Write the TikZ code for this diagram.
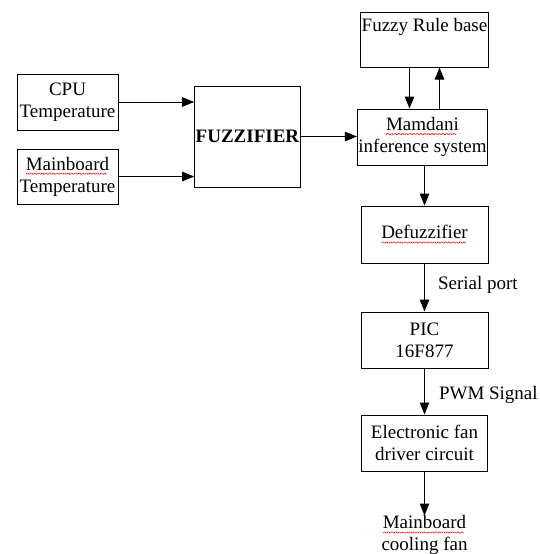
\documentclass[tikz,border=0pt]{standalone}
\usepackage{fontspec}
\setmainfont{Liberation Serif}
\usepackage{graphicx}
\usepackage{tikz}
\usetikzlibrary{arrows.meta,positioning}

% red wavy spell-check underline, built from small rules
\newcommand\wavebit{\rotatebox{45}{\rule{2pt}{0.6pt}}\raisebox{1.4pt}{\rotatebox{-45}{\rule{2pt}{0.6pt}}}}
\newcommand\spellerr[1]{\setbox0\hbox{#1}\rlap{\lower4.5pt\hbox to\wd0{\color{red}\leaders\hbox{\wavebit}\hfill}}#1}

\begin{document}
\begin{tikzpicture}[x=1pt, y=-1pt, node distance=40pt and 60pt,
  box/.style={draw, line width=1pt, align=center, minimum width=127pt, minimum height=56pt, inner sep=1pt, font=\fontsize{19}{22}\selectfont},
  arrow/.style={-{Triangle[length=12pt, width=9.5pt]}, line width=1pt},
  lbl/.style={font=\fontsize{19}{22}\selectfont, inner sep=0pt}]

\useasboundingbox (0,0) rectangle (539,554);

% inputs and fuzzifier
\node[box, minimum width=101pt] (cpu) at (67.5,102) {CPU\\Temperature};
\node[box, minimum width=101pt, minimum height=55pt] (mbtemp) at (67.5,176.5) {\spellerr{Mainboard}\\Temperature};
\node[box, minimum width=101pt, minimum height=101pt] (fuzz) at (247.5,136.5) {\textbf{FUZZIFIER}};

% inference column
\node[box, minimum height=55pt] (rules) at (424.5,39.5) {Fuzzy Rule base\\\strut};
\node[box] (mamdani) at (422.5,137) {\spellerr{Mamdani}\\inference system};
\node[box, below=40pt of mamdani, xshift=2pt, minimum height=57pt] (defuzz) {\spellerr{Defuzzifier}};
\node[box, below=48pt of defuzz] (pic) {PIC\\16F877};
\node[box, below=46pt of pic, minimum width=126pt] (driver) {Electronic fan\\driver circuit};
\node[lbl, below=44pt of driver, align=center] (fan) {\spellerr{Mainboard}\\cooling fan};

\draw[arrow] (cpu) -- (cpu -| fuzz.west);
\draw[arrow] (mbtemp) -- (mbtemp -| fuzz.west);
\draw[arrow] (fuzz) -- (fuzz -| mamdani.west);
\draw[arrow] ([xshift=-15pt]rules.south) -- ([xshift=-15pt]rules.south |- mamdani.north);
\draw[arrow] ([xshift=15pt]rules.south |- mamdani.north) -- ([xshift=15pt]rules.south);
\draw[arrow] (mamdani.south -| defuzz) -- (defuzz.north);
\draw[arrow] (defuzz) -- (pic) node[midway, lbl, right=13pt, yshift=3pt] {Serial port};
\draw[arrow] (pic) -- (driver) node[midway, lbl, right=14pt, yshift=-3pt] {PWM Signal};
\draw[arrow] (driver) -- (fan);
\end{tikzpicture}
\end{document}
